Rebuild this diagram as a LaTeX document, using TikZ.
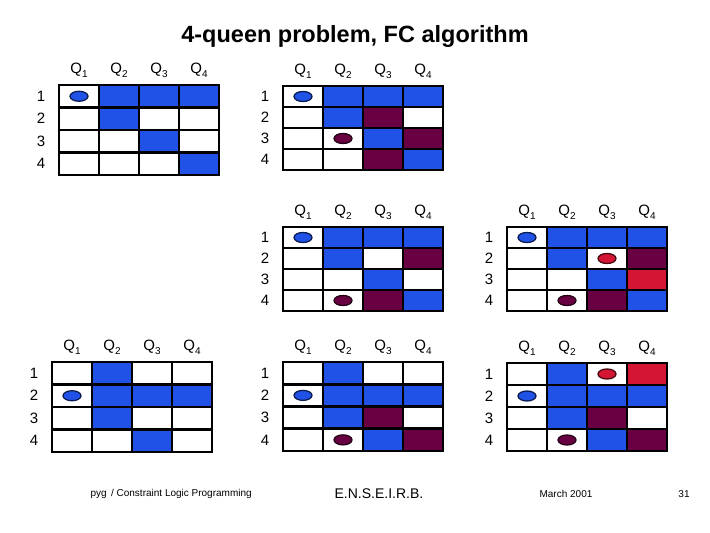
\documentclass[tikz,border=0pt]{standalone}
\usepackage{fontspec}
\setmainfont{Liberation Sans}
\usepackage{xcolor}
\usepackage{tikz}
\usetikzlibrary{shapes.geometric}

\definecolor{qblue}{RGB}{32,82,232}
\definecolor{qmaroon}{RGB}{104,0,66}
\definecolor{qred}{RGB}{212,22,52}

\begin{document}
\begin{tikzpicture}[
  x=1pt, y=-1pt,
  lbl/.style={font=\fontsize{15}{15}\selectfont, inner sep=0pt},
  cellline/.style={line width=2.6pt, line cap=rect},
  queen/.style={ellipse, draw, line width=1.3pt, minimum width=18pt, minimum height=10pt, inner sep=0pt},
  foot/.style={font=\fontsize{10}{10}\selectfont}
]
\useasboundingbox (0,0) rectangle (710,533);

\node[font=\bfseries\fontsize{23.5}{24}\selectfont] (title) at (355,36) {4-queen problem, FC algorithm};

% name/x/y/row height/coloured cells/queens
\foreach \b/\ox/\oy/\ch/\cells/\queens in {
  b1/59/85/22.5/{2/1/qblue,3/1/qblue,4/1/qblue,2/2/qblue,3/3/qblue,4/4/qblue}/{1/1/qblue},
  b2/283/86/21/{2/1/qblue,3/1/qblue,4/1/qblue,2/2/qblue,3/3/qblue,4/4/qblue,3/2/qmaroon,4/3/qmaroon,3/4/qmaroon}/{1/1/qblue,2/3/qmaroon},
  b3/283/227/21/{2/1/qblue,3/1/qblue,4/1/qblue,2/2/qblue,3/3/qblue,4/4/qblue,4/2/qmaroon,3/4/qmaroon}/{1/1/qblue,2/4/qmaroon},
  b4/507/227/21/{2/1/qblue,3/1/qblue,4/1/qblue,2/2/qblue,3/3/qblue,4/4/qblue,4/2/qmaroon,3/4/qmaroon,4/3/qred}/{1/1/qblue,2/4/qmaroon,3/2/qred},
  b5/52/362/22.5/{2/1/qblue,2/2/qblue,3/2/qblue,4/2/qblue,2/3/qblue,3/4/qblue}/{1/2/qblue},
  b6/283/362/22.25/{2/1/qblue,2/2/qblue,3/2/qblue,4/2/qblue,2/3/qblue,3/4/qblue,3/3/qmaroon,4/4/qmaroon}/{1/2/qblue,2/4/qmaroon},
  b7/507/363/22/{2/1/qblue,2/2/qblue,3/2/qblue,4/2/qblue,2/3/qblue,3/4/qblue,3/3/qmaroon,4/4/qmaroon,4/1/qred}/{1/2/qblue,2/4/qmaroon,3/1/qred}}{
  \foreach \c/\r/\col in \cells
    \fill[\col] (\ox+40*\c-40, \oy+\ch*\r-\ch) rectangle +(40,\ch);
  \foreach \i in {0,...,4} {
    \draw[cellline] (\ox+40*\i, \oy) -- ++(0, 4*\ch);
    \draw[cellline] (\ox, \oy+\ch*\i) -- ++(160, 0);
  }
  \foreach \c/\r/\col in \queens
    \node[queen, fill=\col, draw=\col!35!black] (\b-q\c) at (\ox+40*\c-20, \oy+\ch*\r-\ch/2) {};
  \foreach \r in {1,...,4}
    \node[lbl] (\b-r\r) at (\ox-18, \oy+\ch*\r-\ch/2) {\r};
  \foreach \c in {1,...,4}
    \node[lbl] (\b-c\c) at (\ox+40*\c-20, \oy-15) {Q\raisebox{-0.5ex}{\fontsize{10}{10}\selectfont\c}};
}

\node[foot, anchor=west] (course) at (87,494) {pyg\, / Constraint Logic Programming};
\node[font=\fontsize{14}{14}\selectfont] (school) at (379,494) {E.N.S.E.I.R.B.};
\node[foot] (date) at (566,494) {March 2001};
\node[foot] (page) at (684,494) {31};
\end{tikzpicture}
\end{document}
